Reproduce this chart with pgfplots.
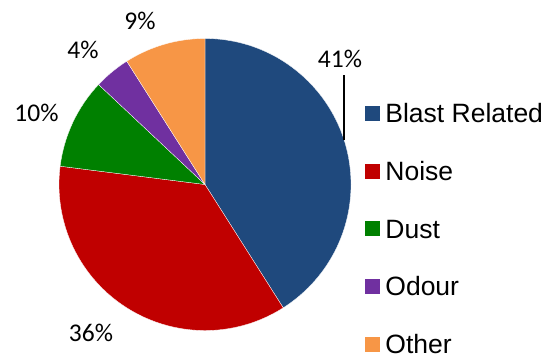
\documentclass[border=0pt]{standalone}
\usepackage{pgfplots}
\pgfplotsset{compat=1.18}
\usepackage{fontspec}
\setmainfont{Liberation Sans}
\newfontfamily\labelfont{Carlito}

\definecolor{blast}{HTML}{1F497D}
\definecolor{noise}{HTML}{C00000}
\definecolor{dust}{HTML}{008000}
\definecolor{odour}{HTML}{7030A0}
\definecolor{other}{HTML}{F79646}

\begin{document}
\begin{tikzpicture}
\begin{axis}[
  width=552pt, height=360pt, scale only axis,
  xmin=0, xmax=552, ymin=0, ymax=360,
  hide axis, clip=false,
  legend cell align=left,
  legend style={
    at={(axis cs:365,256.5)}, anchor=north west,
    draw=none, fill=none, inner sep=0pt, outer sep=0pt,
    font=\fontsize{26.5}{30}\selectfont,
    row sep=38.75pt, column sep=6pt,
    nodes={inner sep=0pt, outer sep=0pt, text height=19pt, text depth=0pt},
  },
  legend image code/.code={\fill[#1] (0pt,-7pt) rectangle (14pt,7pt);},
]
\addlegendimage{blast}
\addlegendentry{Blast Related}
\addlegendimage{noise}
\addlegendentry{Noise}
\addlegendimage{dust}
\addlegendentry{Dust}
\addlegendimage{odour}
\addlegendentry{Odour}
\addlegendimage{other}
\addlegendentry{Other}

\pgfplotsextra{
  % page bounds
  \path (axis cs:0,0) (axis cs:552,360);
  \coordinate (C) at (axis cs:205,175.5);
  \def\r{146pt}
  \gdef\startangle{90}
  % share / colour / label position
  \foreach \v/\c/\lx/\ly in {41/blast/340/301, 36/noise/91/27, 10/dust/36.5/247, 4/odour/83/310, 9/other/140/339} {
    \pgfmathsetmacro\endangle{\startangle - 3.6*\v}
    \fill[\c, draw=white, line width=0.3pt] (C) -- ++(\startangle:\r)
      arc[start angle=\startangle, end angle=\endangle, radius=\r] -- cycle;
    \node[font=\labelfont\fontsize{25.5}{28}\selectfont] at (axis cs:\lx,\ly) {\v\%};
    \xdef\startangle{\endangle}
  }
  % leader line for the first slice
  \draw[black, line width=1.2pt] (axis cs:344,285) -- (axis cs:344,220);
}
\end{axis}
\end{tikzpicture}
\end{document}
